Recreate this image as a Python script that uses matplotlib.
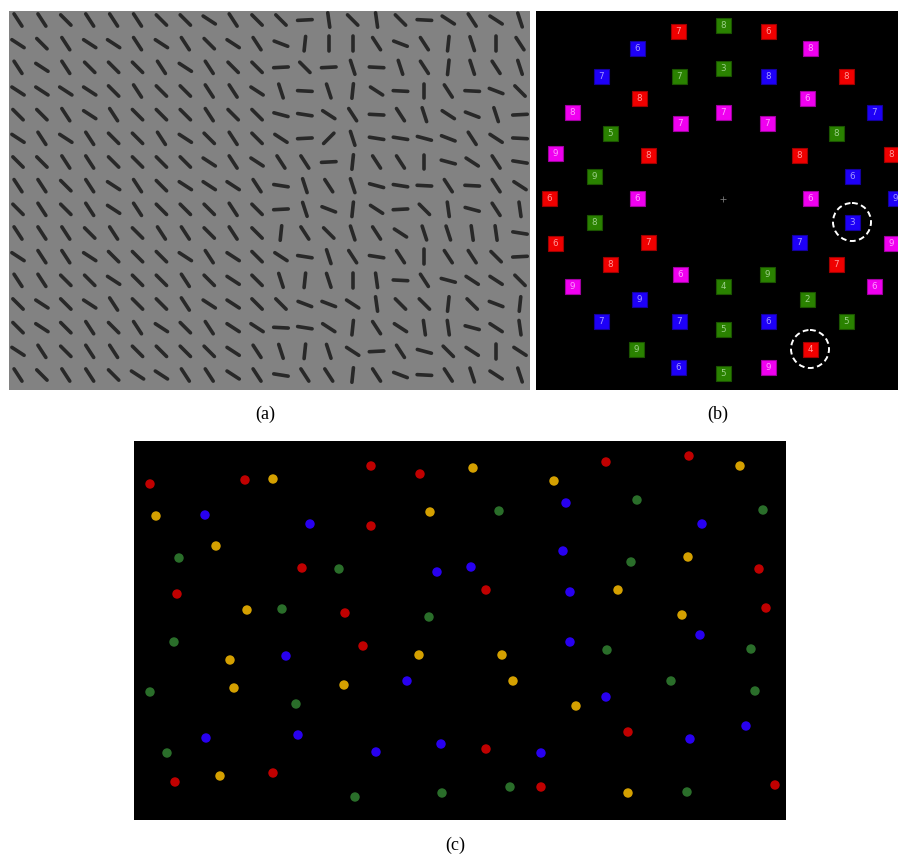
import numpy as np
import matplotlib.pyplot as plt
from matplotlib.collections import LineCollection
from matplotlib.patches import Rectangle, Circle

W, H = 898, 857

# ---- (a) texture of oriented bars: one letter per bar, 22 cols x 16 rows
bar_rows = [
    "ccbcccbbacb" "bkvbvbhacad",
    "abcaacacbac" "euVVcecudVc",
    "cacbbbcacbb" "kbkdhdcudcd",
    "aaaabcbbcca" "dhduahVcheb",
    "bbcacbbbcbb" "fgachcdaedk",
    "acacbbcabcb" "akpdggfecah",
    "bbccbbbbaca" "cckuccVfacg",
    "ccbcacbaaac" "gdcdfghchca",
    "bcbcacbbbcb" "kdeuakbvfcv",
    "cccbcbccbcb" "ucbdcaddvvg",
    "accabbbacab" "agdcgcVccbk",
    "ccbbabbcbab" "dudVvhcfaab",
    "babacbbcaab" "beeavbbubeu",
    "babcbcabcaa" "hgaucavvfav",
    "acbccbbbbac" "dudakcfbaVa",
    "cbccbaaccac" "gccucehcdad",
]
# angle in degrees, counter-clockwise on screen
bar_angle = {'a': -33, 'b': -45, 'c': -57, 'd': -72, 'v': -82, 'V': 90,
             'u': 84, 'e': -21, 'f': -15, 'g': -9, 'h': -3, 'k': 3, 'p': 45}

# ---- (b) coloured squares with digits (pixel positions)
sq_x = [678, 723, 768, 637, 810, 601, 679, 723, 768, 846, 639, 807, 572, 680,
        723, 767, 874, 610, 836, 555, 648, 799, 891, 594, 852, 549, 637, 810,
        895, 594, 852, 555, 648, 799, 891, 610, 680, 767, 836, 572, 723, 874,
        639, 807, 601, 679, 723, 768, 846, 636, 810, 678, 723, 768]
sq_y = [31, 25, 31, 48, 48, 76, 76, 68, 76, 76, 98, 98, 112, 123,
        112, 123, 112, 133, 133, 153, 155, 155, 154, 176, 176, 198, 198, 198,
        198, 222, 222, 243, 242, 242, 243, 264, 274, 274, 264, 286, 286, 286,
        299, 299, 321, 321, 329, 321, 321, 349, 349, 367, 373, 367]
sq_col = ("r" "g" "r" "b" "m" "b" "g" "g" "b" "r" "r" "m" "m" "m"
          "m" "m" "b" "g" "g" "m" "r" "r" "r" "g" "b" "r" "m" "m"
          "b" "g" "b" "r" "r" "b" "m" "r" "m" "g" "r" "m" "g" "m"
          "b" "g" "b" "b" "g" "b" "g" "g" "r" "b" "g" "m")
sq_digit = ("7" "8" "6" "6" "8" "7" "7" "3" "8" "8" "8" "6" "8" "7"
            "7" "7" "7" "5" "8" "9" "8" "8" "8" "9" "6" "6" "6" "6"
            "9" "8" "3" "6" "7" "7" "9" "8" "6" "9" "7" "9" "4" "6"
            "9" "2" "7" "7" "5" "6" "5" "9" "4" "6" "5" "9")
target_x = [852, 810]
target_y = [222, 349]
fix_x, fix_y = 723, 199

sq_face = {'r': '#f00000', 'g': '#2a8200', 'b': '#1e00f8', 'm': '#f000f0'}
sq_edge = {'r': '#a00000', 'g': '#1b5400', 'b': '#1400a0', 'm': '#a000a0'}
sq_text = {'r': '#ff9a9a', 'g': '#9ccf8a', 'b': '#a59aff', 'm': '#ff9cff'}

# ---- (c) coloured dots
red_x = [150, 245, 371, 420, 371, 302, 177, 345, 606, 689, 759, 486, 766,
         363, 175, 273, 628, 486, 541, 775]
red_y = [484, 480, 466, 474, 526, 568, 594, 613, 462, 456, 569, 590, 608,
         646, 782, 773, 732, 749, 787, 785]
yel_x = [273, 156, 430, 216, 247, 473, 740, 554, 688, 618, 682, 230, 419,
         234, 344, 220, 502, 513, 576, 628]
yel_y = [479, 516, 512, 546, 610, 468, 466, 481, 557, 590, 615, 660, 655,
         688, 685, 776, 655, 681, 706, 793]
blu_x = [205, 310, 437, 566, 702, 563, 471, 570, 286, 407, 206, 298, 376,
         441, 570, 700, 606, 690, 746, 541]
blu_y = [515, 524, 572, 503, 524, 551, 567, 592, 656, 681, 738, 735, 752,
         744, 642, 635, 697, 739, 726, 753]
grn_x = [179, 339, 282, 429, 637, 499, 763, 631, 174, 150, 296, 167, 355,
         442, 607, 751, 671, 755, 510, 687]
grn_y = [558, 569, 609, 617, 500, 511, 510, 562, 642, 692, 704, 753, 797,
         793, 650, 649, 681, 691, 787, 792]


def pixel_axes(fig, x0, y0, x1, y1, face):
    ax = fig.add_axes([x0 / W, 1 - y1 / H, (x1 - x0) / W, (y1 - y0) / H])
    ax.set_xlim(x0, x1)
    ax.set_ylim(y1, y0)
    ax.set_facecolor(face)
    ax.set_xticks([])
    ax.set_yticks([])
    for s in ax.spines.values():
        s.set_visible(False)
    return ax


fig = plt.figure(figsize=(W / 100, H / 100), dpi=100)
fig.patch.set_facecolor('white')

# (a)
ax = pixel_axes(fig, 9, 10.5, 530, 389.5, '#828282')
col_x = np.linspace(18, 520, 22)
row_y = np.linspace(20, 375, 16)
half = 7.3
segs = []
for j, row in enumerate(bar_rows):
    for i, ch in enumerate(row):
        t = np.radians(bar_angle[ch])
        dx, dy = half * np.cos(t), -half * np.sin(t)
        segs.append([(col_x[i] - dx, row_y[j] - dy), (col_x[i] + dx, row_y[j] + dy)])
ax.add_collection(LineCollection(segs, colors='#282828', linewidths=2.6,
                                 capstyle='round'))

# (b)
ax = pixel_axes(fig, 536, 10.5, 898, 389.5, 'black')
for x, y, c, d in zip(sq_x, sq_y, sq_col, sq_digit):
    ax.add_patch(Rectangle((x - 7.5, y - 7.5), 15, 15, facecolor=sq_face[c],
                           edgecolor=sq_edge[c], linewidth=0.8))
    ax.text(x, y + 0.3, d, ha='center', va='center', fontsize=6.3,
            color=sq_text[c], family='DejaVu Sans')
for x, y in zip(target_x, target_y):
    ax.add_patch(Circle((x, y), 19, fill=False, edgecolor='white',
                        linewidth=1.4, linestyle=(0, (3, 1.8))))
ax.plot([fix_x], [fix_y], marker='+', markersize=4, color='#777777',
        markeredgewidth=0.6)

# (c)
ax = pixel_axes(fig, 134, 441, 786, 820, 'black')
for xs, ys, c in [(red_x, red_y, '#c00000'), (yel_x, yel_y, '#d4a000'),
                  (blu_x, blu_y, '#2800f0'), (grn_x, grn_y, '#2a6e2a')]:
    ax.scatter(xs, ys, s=46, color=c, edgecolors='none')

# panel labels
for x, y, lab in [(265, 414, '(a)'), (718, 414, '(b)'), (455, 845, '(c)')]:
    fig.text(x / W, 1 - y / H, lab, ha='center', va='center', fontsize=13,
             family='Liberation Serif')

fig.savefig('out.png', dpi=100, facecolor='white')
